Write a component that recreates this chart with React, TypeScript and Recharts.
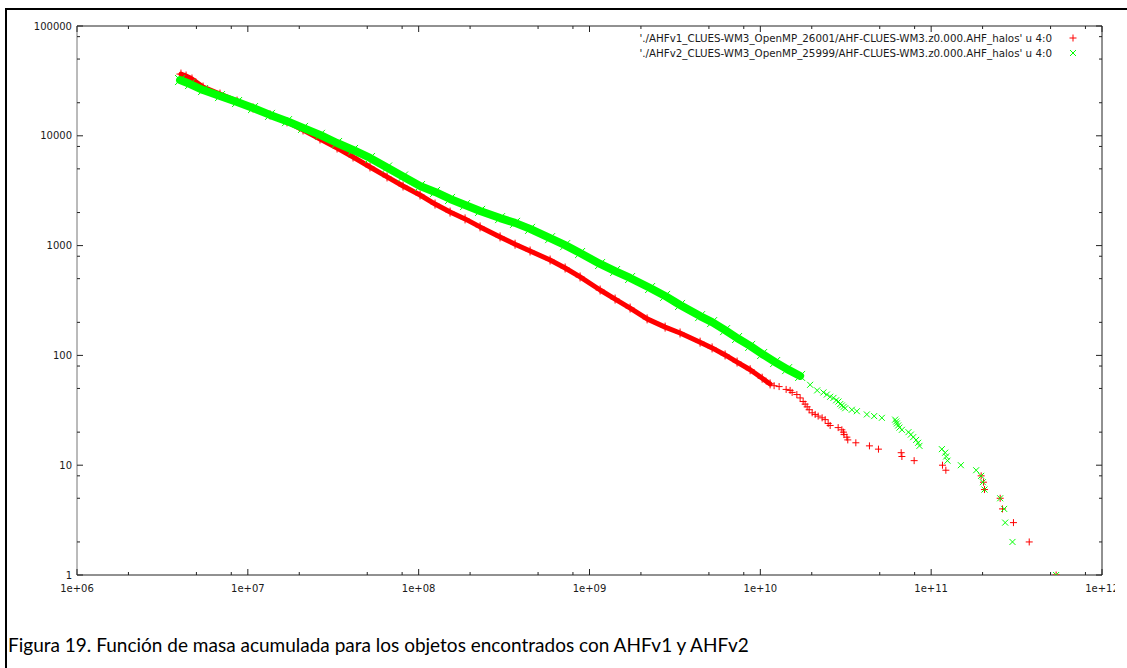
import React from 'react';
import { ScatterChart, Scatter, XAxis, YAxis } from 'recharts';

// ---- data (halo mass M, cumulative count N(>M)) ----
const v1DenseMass = [4.06e6, 4.35e6, 4.71e6, 5.47e6, 6.87e6, 8.65e6, 1.073e7, 1.349e7, 1.696e7, 2.105e7, 2.646e7, 3.33e7, 4.13e7, 5.19e7, 6.53e7, 8.1e7, 1.019e8, 1.247e8, 1.527e8, 1.869e8, 2.288e8, 2.996e8, 3.667e8, 4.49e8, 5.88e8, 7.2e8, 8.81e8, 1.154e9, 1.412e9, 1.729e9, 2.174e9, 2.771e9, 3.39e9, 4.44e9, 5.22e9, 6.22e9, 7.31e9, 8.72e9, 1.025e10, 1.141e10];
const v1DenseCount = [36500, 35000, 32900, 27800, 24000, 20700, 17900, 15500, 13400, 11300, 9350, 7740, 6410, 5200, 4220, 3490, 2890, 2390, 2020, 1750, 1480, 1200, 1030, 893, 739, 625, 518, 394, 326, 270, 215, 181, 160, 132, 117, 101, 87, 74, 62, 55];
const v1TailMass = [1.204e10, 1.288e10, 1.416e10, 1.494e10, 1.535e10, 1.636e10, 1.71e10, 1.781e10, 1.829e10, 1.879e10, 1.931e10, 2.011e10, 2.094e10, 2.18e10, 2.3e10, 2.396e10, 2.495e10, 2.563e10, 2.855e10, 3.001e10, 3.066e10, 3.09e10, 3.21e10, 3.25e10, 3.623e10, 4.352e10, 4.914e10, 6.675e10, 6.74e10, 7.95e10, 1.165e11, 1.219e11, 1.962e11, 2.024e11, 2.051e11, 2.535e11, 2.615e11, 3.032e11, 3.75e11, 5.39e11];
const v1TailCount = [53, 52, 49, 48, 46, 44, 41, 38, 36, 34, 32, 30, 29, 28, 27, 26, 24, 23, 22, 21, 20, 19, 18, 17, 16, 15, 14, 13, 12, 11, 10, 9, 8, 7, 6, 5, 4, 3, 2, 1];

const v2DenseMass = [4.01e6, 4.59e6, 5.47e6, 6.87e6, 8.65e6, 1.073e7, 1.349e7, 1.696e7, 2.105e7, 2.646e7, 3.33e7, 4.13e7, 5.19e7, 6.53e7, 8.1e7, 1.019e8, 1.247e8, 1.527e8, 1.869e8, 2.288e8, 2.996e8, 3.667e8, 4.49e8, 5.88e8, 7.2e8, 8.81e8, 1.154e9, 1.412e9, 1.729e9, 2.264e9, 2.771e9, 3.39e9, 4.44e9, 5.22e9, 6.22e9, 7.31e9, 8.72e9, 1.025e10, 1.221e10, 1.435e10, 1.71e10];
const v2DenseCount = [32200, 29600, 26100, 23000, 20300, 17900, 15500, 13600, 11800, 10200, 8600, 7430, 6280, 5140, 4260, 3490, 3080, 2660, 2340, 2070, 1780, 1610, 1420, 1170, 1010, 856, 680, 587, 507, 411, 348, 288, 228, 201, 170, 144, 122, 103, 87, 75, 65];
const v2TailMass = [1.957e10, 2.151e10, 2.341e10, 2.451e10, 2.563e10, 2.679e10, 2.778e10, 2.866e10, 2.933e10, 3.001e10, 3.074e10, 3.137e10, 3.434e10, 3.673e10, 4.203e10, 4.638e10, 5.144e10, 6.155e10, 6.24e10, 6.3e10, 6.41e10, 6.52e10, 6.74e10, 7.365e10, 7.607e10, 7.846e10, 8.17e10, 8.39e10, 8.54e10, 1.155e11, 1.208e11, 1.224e11, 1.246e11, 1.492e11, 1.834e11, 1.962e11, 2.007e11, 2.051e11, 2.535e11, 2.675e11, 2.712e11, 2.992e11, 5.39e11];
const v2TailCount = [54, 48, 46, 44, 42, 41, 39, 38, 36, 35, 34, 33, 32, 31, 29, 28, 27, 26, 25, 24, 23, 22, 21, 20, 19, 18, 17, 16, 15, 14, 13, 12, 11, 10, 9, 8, 7, 6, 5, 4, 3, 2, 1];

const xTicks = [1e6, 2e6, 5e6, 8e6, 1e7, 2e7, 5e7, 8e7, 1e8, 2e8, 5e8, 8e8, 1e9, 2e9, 5e9, 8e9, 1e10, 2e10, 5e10, 8e10, 1e11, 2e11, 5e11, 8e11, 1e12];
const xMajor = [1e6, 1e7, 1e8, 1e9, 1e10, 1e11, 1e12];
const xMajorLabels = ['1e+06', '1e+07', '1e+08', '1e+09', '1e+10', '1e+11', '1e+12'];
const yTicks = [1, 2, 5, 8, 10, 20, 50, 80, 100, 200, 500, 800, 1000, 2000, 5000, 8000, 10000, 20000, 50000, 80000, 100000];
const yMajor = [1, 10, 100, 1000, 10000, 100000];
const yMajorLabels = ['1', '10', '100', '1000', '10000', '100000'];

const legendLabels = [
  "'./AHFv1_CLUES-WM3_OpenMP_26001/AHF-CLUES-WM3.z0.000.AHF_halos' u 4:0",
  "'./AHFv2_CLUES-WM3_OpenMP_25999/AHF-CLUES-WM3.z0.000.AHF_halos' u 4:0",
];
const caption = 'Figura 19. Función de masa acumulada para los objetos encontrados con AHFv1 y AHFv2';

const RED = '#ff0000';
const GREEN = '#00ff00';
const AXIS = '#222222';
const FONT = '"DejaVu Sans", Verdana, sans-serif';

const zip = (ms: number[], ns: number[]) => ms.map((m, i) => ({ m, n: ns[i] }));
const v1Dense = zip(v1DenseMass, v1DenseCount);
const v1Tail = zip(v1TailMass, v1TailCount);
const v2Dense = zip(v2DenseMass, v2DenseCount);
const v2Tail = zip(v2TailMass, v2TailCount);

const isMajorX = (v: number) => xMajor.some((t) => Math.abs(t - v) / t < 1e-6);
const isMajorY = (v: number) => yMajor.some((t) => Math.abs(t - v) / t < 1e-6);

const PlusShape = (p: any) => {
  const { cx, cy } = p;
  if (cx == null || cy == null) return <g />;
  return <path d={`M${cx - 3.5},${cy}h7M${cx},${cy - 3.5}v7`} stroke={RED} strokeWidth={1} fill="none" />;
};
const CrossShape = (p: any) => {
  const { cx, cy } = p;
  if (cx == null || cy == null) return <g />;
  return <path d={`M${cx - 3},${cy - 3}l6,6M${cx - 3},${cy + 3}l6,-6`} stroke={GREEN} strokeWidth={1} fill="none" />;
};
const BigPlusShape = (p: any) => {
  const { cx, cy } = p;
  if (cx == null || cy == null) return <g />;
  return <path d={`M${cx - 4.5},${cy}h9M${cx},${cy - 4.5}v9`} stroke={RED} strokeWidth={1} fill="none" />;
};
const BigCrossShape = (p: any) => {
  const { cx, cy } = p;
  if (cx == null || cy == null) return <g />;
  return <path d={`M${cx - 5},${cy - 5}l10,10M${cx - 5},${cy + 5}l10,-10`} stroke={GREEN} strokeWidth={1} fill="none" />;
};

const BottomTick = (p: any) => {
  const { x, y, payload } = p;
  const v = payload.value;
  const major = isMajorX(v);
  const idx = xMajor.findIndex((t) => Math.abs(t - v) / t < 1e-6);
  return (
    <g>
      <line x1={x} y1={y} x2={x} y2={y - (major ? 6 : 3)} stroke={AXIS} />
      {major && (
        <text x={x} y={y + 13} textAnchor="middle" dominantBaseline="central" fontFamily={FONT} fontSize={10} fill="#1a1a1a">
          {xMajorLabels[idx]}
        </text>
      )}
    </g>
  );
};
const TopTick = (p: any) => {
  const { x, y, payload } = p;
  const major = isMajorX(payload.value);
  return <line x1={x} y1={y} x2={x} y2={y + (major ? 6 : 3)} stroke={AXIS} />;
};
const LeftTick = (p: any) => {
  const { x, y, payload } = p;
  const v = payload.value;
  const major = isMajorY(v);
  const idx = yMajor.findIndex((t) => Math.abs(t - v) / t < 1e-6);
  return (
    <g>
      <line x1={x} y1={y} x2={x + (major ? 6 : 3)} y2={y} stroke={AXIS} />
      {major && (
        <text x={x - 5} y={y} textAnchor="end" dominantBaseline="central" fontFamily={FONT} fontSize={10} fill="#1a1a1a">
          {yMajorLabels[idx]}
        </text>
      )}
    </g>
  );
};
const RightTick = (p: any) => {
  const { x, y, payload } = p;
  const major = isMajorY(payload.value);
  return <line x1={x} y1={y} x2={x - (major ? 6 : 3)} y2={y} stroke={AXIS} />;
};

const LegendMarker = ({ kind }: { kind: 'plus' | 'cross' }) => (
  <svg width={10} height={10} style={{ display: 'block' }}>
    {kind === 'plus' ? (
      <path d="M1.5,5h7M5,1.5v7" stroke={RED} strokeWidth={1} fill="none" />
    ) : (
      <path d="M2,2l6,6M2,8l6,-6" stroke={GREEN} strokeWidth={1} fill="none" />
    )}
  </svg>
);

export default function App() {
  return (
    <div style={{ position: 'absolute', left: 0, top: 0, width: 1127, height: 668, background: '#fff', overflow: 'hidden' }}>
      {/* document frame */}
      <div style={{ position: 'absolute', left: 5, top: 8, width: 1200, height: 700, borderTop: '2px solid #000', borderLeft: '2px solid #000' }} />
      <div style={{ position: 'absolute', left: 0, top: 0 }}>
        <ScatterChart width={1115} height={610} margin={{ top: 0, right: 0, bottom: 0, left: 0 }}>
          <XAxis
            xAxisId="bottom"
            dataKey="m"
            type="number"
            scale="log"
            domain={[1e6, 1e12]}
            allowDataOverflow
            ticks={xTicks}
            interval={0}
            tickSize={0}
            tickMargin={0}
            tickLine={false}
            height={35}
            axisLine={{ stroke: AXIS }}
            tick={<BottomTick />}
          />
          <XAxis
            xAxisId="top"
            orientation="top"
            dataKey="m"
            type="number"
            scale="log"
            domain={[1e6, 1e12]}
            allowDataOverflow
            ticks={xTicks}
            interval={0}
            tickSize={0}
            tickMargin={0}
            tickLine={false}
            height={26}
            axisLine={{ stroke: AXIS }}
            tick={<TopTick />}
          />
          <YAxis
            yAxisId="left"
            dataKey="n"
            type="number"
            scale="log"
            domain={[1, 100000]}
            allowDataOverflow
            ticks={yTicks}
            interval={0}
            tickSize={0}
            tickMargin={0}
            tickLine={false}
            width={77}
            axisLine={{ stroke: '#777' }}
            tick={<LeftTick />}
          />
          <YAxis
            yAxisId="right"
            orientation="right"
            dataKey="n"
            type="number"
            scale="log"
            domain={[1, 100000]}
            allowDataOverflow
            ticks={yTicks}
            interval={0}
            tickSize={0}
            tickMargin={0}
            tickLine={false}
            width={13}
            axisLine={{ stroke: AXIS }}
            tick={<RightTick />}
          />
          <Scatter
            xAxisId="bottom"
            yAxisId="left"
            data={v1Dense}
            fill={RED}
            line={{ stroke: RED, strokeWidth: 5, strokeLinejoin: 'round', strokeLinecap: 'round' }}
            lineType="joint"
            shape={BigPlusShape}
            isAnimationActive={false}
          />
          <Scatter xAxisId="bottom" yAxisId="left" data={v1Tail} fill={RED} shape={PlusShape} isAnimationActive={false} />
          <Scatter
            xAxisId="bottom"
            yAxisId="left"
            data={v2Dense}
            fill={GREEN}
            line={{ stroke: GREEN, strokeWidth: 8, strokeLinejoin: 'round', strokeLinecap: 'round' }}
            lineType="joint"
            shape={BigCrossShape}
            isAnimationActive={false}
          />
          <Scatter xAxisId="bottom" yAxisId="left" data={v2Tail} fill={GREEN} shape={CrossShape} isAnimationActive={false} />
        </ScatterChart>
      </div>
      {/* legend */}
      {legendLabels.map((label, i) => (
        <div key={i} style={{ position: 'absolute', top: 31 + i * 14.5, left: 600, width: 480, height: 14, display: 'flex', alignItems: 'center', justifyContent: 'flex-end' }}>
          <span style={{ fontFamily: FONT, fontSize: 10.3, color: '#1a1a1a', whiteSpace: 'pre', lineHeight: '14px' }}>{label}</span>
          <span style={{ display: 'inline-block', width: 28, height: 10, position: 'relative' }}>
            <span style={{ position: 'absolute', left: 16, top: 0 }}>
              <LegendMarker kind={i === 0 ? 'plus' : 'cross'} />
            </span>
          </span>
        </div>
      ))}
      {/* caption */}
      <div style={{ position: 'absolute', left: 8, top: 633, fontFamily: 'Lato, "Open Sans", sans-serif', fontSize: 19, color: '#000', whiteSpace: 'nowrap', lineHeight: '24px' }}>
        {caption}
      </div>
    </div>
  );
}
